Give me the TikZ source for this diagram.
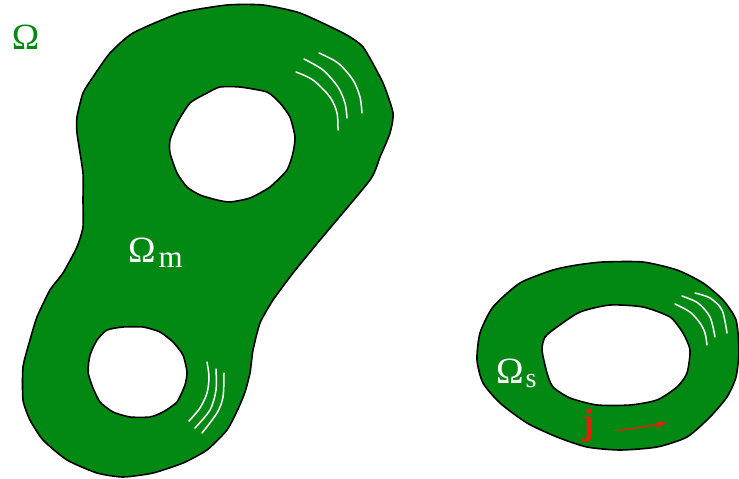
\documentclass[tikz,border=0pt]{standalone}
\usepackage{fontspec}
\setmainfont{Liberation Serif}
\usepackage{xcolor}
\usepackage{tikz}
\usetikzlibrary{arrows.meta}

\definecolor{regiongreen}{RGB}{2,137,19}
\definecolor{currentred}{RGB}{228,32,12}

\begin{document}
\begin{tikzpicture}[x=1pt, y=-1pt]
	% Styles
	\tikzstyle{region} = [fill=regiongreen, draw=black, line width=1.6pt, even odd rule, line join=round]
	\tikzstyle{hatch} = [draw=white, line width=1.5pt, line cap=round]
	\tikzstyle{biglabel} = [inner sep=0pt, font=\fontsize{37}{40}\selectfont]
	\tikzstyle{arrow} = [draw=currentred, line width=1.4pt, -{Stealth[length=13pt, width=7pt]}]

	\useasboundingbox (0,0) rectangle (739,479);

	% Magnetic region with two holes
	\path[region]
		plot[smooth cycle, tension=0.35] coordinates {
			(227,5) (263,5) (300,13) (343,33) (363,47) (383,83) (393,113) (390,133)
			(380,157) (370,180) (320,240) (293,273) (273,300) (260,323) (253,350)
			(250,373) (245,392) (238,409) (227,430) (207,450) (183,463) (153,473)
			(123,477) (97,473) (67,460) (43,440) (30,420) (23,400) (23,367) (30,340)
			(37,317) (50,290) (63,273) (77,247) (83,227) (83,200) (83,173) (77,133)
			(77,117) (83,93) (93,77) (110,53) (133,33) (180,13)}
		plot[smooth cycle, tension=0.35] coordinates {
			(220,87) (240,87) (267,92) (280,103) (290,117) (295,137) (293,153)
			(287,170) (270,187) (250,198) (230,202) (217,200) (200,195) (187,187)
			(177,173) (170,153) (170,140) (177,123) (190,103) (207,93)}
		plot[smooth cycle, tension=0.35] coordinates {
			(123,327) (143,327) (160,332) (173,342) (183,355) (187,372) (185,385)
			(177,402) (163,412) (150,417) (130,417) (113,412) (100,402) (93,388)
			(88,372) (90,355) (97,340) (107,330)};

	% Ring
	\path[region]
		plot[smooth cycle, tension=0.4] coordinates {
			(603,262) (643,262) (677,270) (703,283) (723,300) (736,320) (739,350)
			(736,377) (727,397) (710,417) (687,437) (657,447) (620,450) (587,447)
			(557,437) (527,423) (500,403) (483,383) (477,360) (480,333) (493,307)
			(520,283) (553,270) (577,265)}
		plot[smooth cycle, tension=0.4] coordinates {
			(557,327) (580,312) (610,305) (643,307) (670,317) (683,333) (690,350)
			(687,373) (677,387) (657,400) (630,405) (597,405) (570,398) (553,387)
			(547,373) (542,350) (545,337)};

	% Eddy lines
	\draw[hatch] plot[smooth] coordinates {(296,72) (313,80) (330,97) (337,113) (338,130)};
	\draw[hatch] plot[smooth] coordinates {(304,59) (323,70) (338,87) (345,103) (347,118)};
	\draw[hatch] plot[smooth] coordinates {(319,53) (338,63) (353,80) (360,97) (362,113)};

	\draw[hatch] plot[smooth] coordinates {(207,362) (209,377) (207,393) (200,408) (189,421)};
	\draw[hatch] plot[smooth] coordinates {(216,369) (216,390) (210,410) (195,428)};
	\draw[hatch] plot[smooth] coordinates {(224,373) (223,397) (217,413) (202,433)};

	\draw[hatch] plot[smooth] coordinates {(675,304) (690,312) (700,323) (705,333) (707,345)};
	\draw[hatch] plot[smooth] coordinates {(682,296) (698,303) (710,317) (715,337)};
	\draw[hatch] plot[smooth] coordinates {(695,293) (710,298) (722,310) (727,333)};

	% Labels
	\node (omega) [biglabel, text=regiongreen] at (25.5,37.5) {Ω};
	\node (omegam) [biglabel, text=white, anchor=base west] at (128,262)
		{Ω\kern3pt\raisebox{-5pt}{\fontsize{31}{31}\selectfont m}};
	\node (omegas) [biglabel, text=white, anchor=base west] at (496,383)
		{Ω\kern2pt\raisebox{-4pt}{\fontsize{28}{28}\selectfont s}};
	\node (jlabel) [biglabel, text=currentred, font=\fontsize{37}{40}\selectfont\bfseries] at (589,425.5) {j};

	% Current direction
	\coordinate (jtail) at (617,431);
	\coordinate (jhead) at (668,423);
	\draw [arrow] (jtail) -- (jhead);

\end{tikzpicture}
\end{document}
